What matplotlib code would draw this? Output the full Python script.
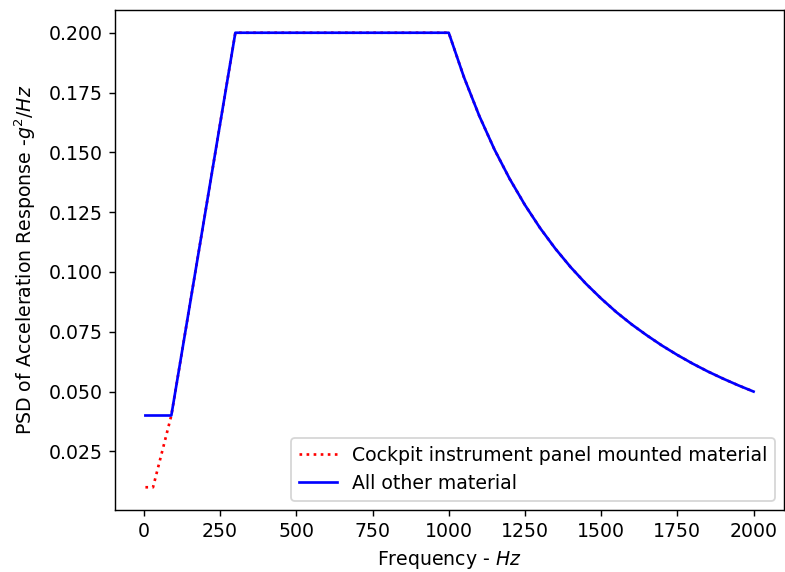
import matplotlib
matplotlib.use("Agg")
import matplotlib.pyplot as plt

# ── Breakpoints ─────────────────────────────────────────────────────────────
cockpit_freq = [5, 30, 90, 300, 1000]
cockpit_psd = [0.01, 0.01, 0.04, 0.2, 0.2]

other_freq = [5, 90, 300, 1000]
other_psd = [0.04, 0.04, 0.2, 0.2]

# roll-off above 1000 Hz (shared by both curves)
rolloff_freq = [1050, 1100, 1150, 1200, 1250, 1300, 1350, 1400, 1450, 1500,
                1550, 1600, 1650, 1700, 1750, 1800, 1850, 1900, 1950, 2000]
rolloff_psd = [0.1814, 0.1653, 0.1512, 0.1389, 0.1280, 0.1183, 0.1097, 0.1020,
               0.0951, 0.0889, 0.0832, 0.0781, 0.0735, 0.0692, 0.0653, 0.0617,
               0.0584, 0.0554, 0.0526, 0.0500]

plt.rcParams["font.size"] = 10.6

dpi = 128
fig, ax = plt.subplots(figsize=(785 / dpi, 572 / dpi), dpi=dpi)
fig.subplots_adjust(left=0.1465, right=0.9987, top=0.9825, bottom=0.1084)

ax.plot(cockpit_freq + rolloff_freq, cockpit_psd + rolloff_psd, "r:",
        label="Cockpit instrument panel mounted material")
ax.plot(other_freq + rolloff_freq, other_psd + rolloff_psd, "b-",
        label="All other material")

ax.set_xlabel("Frequency - $Hz$")
ax.set_ylabel("PSD of Acceleration Response -$g^2/Hz$", labelpad=6)
ax.legend(loc="lower right")

plt.savefig("out.png", dpi=dpi)
plt.close()
